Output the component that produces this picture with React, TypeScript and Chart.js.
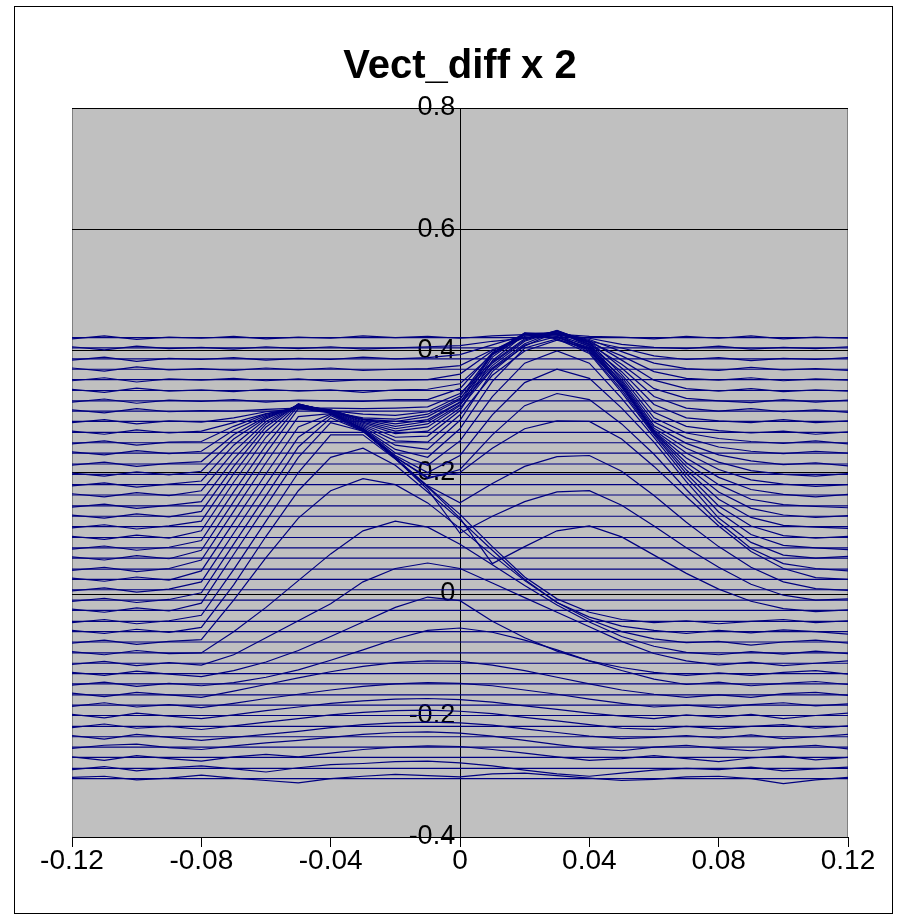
import React, { useEffect, useRef } from 'react';
import { Chart, registerables } from 'chart.js';

Chart.register(...registerables);

const TITLE = 'Vect_diff x 2';
const X_MIN = -0.12;
const X_MAX = 0.12;
const X_STEP = 0.04;
const Y_MIN = -0.4;
const Y_MAX = 0.8;
const Y_STEP = 0.2;

// x positions shared by every trace
const X_VALUES = [
  -0.12, -0.11, -0.1, -0.09, -0.08, -0.07, -0.06, -0.05, -0.04, -0.03, -0.02, -0.01,
  0, 0.01, 0.02, 0.03, 0.04, 0.05, 0.06, 0.07, 0.08, 0.09, 0.1, 0.11, 0.12,
];

// straight offset lines (values x1000)
const BASELINES = [
  -304, -287, -269, -252, -235, -218, -200, -183, -166, -148, -131, -114, -97, -79, -62,
  -45, -27, -10, 7, 24, 41, 59, 76, 93, 111, 128, 145, 163, 180, 197, 214, 232, 249,
  266, 284, 301, 318, 335, 353, 370, 387, 405, 422,
];

// measured traces (values x1000), one row per trace
const TRACES = [
  [-302,-300,-306,-303,-298,-303,-307,-311,-304,-300,-297,-299,-301,-296,-295,-299,-303,-307,-305,-301,-300,-304,-312,-306,-302],
  [-289,-284,-291,-286,-283,-288,-293,-286,-281,-279,-276,-275,-278,-283,-290,-296,-300,-295,-290,-287,-289,-285,-291,-288,-285],
  [-268,-274,-266,-271,-275,-268,-264,-268,-262,-256,-252,-250,-251,-256,-262,-268,-274,-271,-266,-271,-276,-270,-267,-273,-269],
  [-254,-249,-247,-253,-256,-250,-245,-241,-236,-231,-228,-227,-229,-234,-241,-248,-254,-258,-252,-249,-254,-258,-252,-249,-255],
  [-233,-239,-231,-236,-241,-236,-231,-226,-220,-215,-212,-211,-212,-216,-222,-228,-234,-238,-236,-233,-237,-232,-238,-235,-231],
  [-220,-214,-221,-218,-223,-217,-211,-205,-199,-195,-192,-191,-193,-197,-203,-209,-215,-221,-223,-218,-222,-218,-215,-221,-217],
  [-198,-204,-196,-201,-205,-199,-192,-186,-180,-176,-173,-172,-174,-178,-184,-190,-196,-201,-205,-199,-203,-198,-205,-200,-196],
  [-185,-179,-186,-182,-187,-180,-172,-165,-158,-152,-148,-146,-147,-151,-158,-165,-173,-180,-186,-183,-187,-182,-179,-184,-181],
  [-163,-169,-162,-166,-170,-160,-149,-138,-128,-119,-113,-110,-111,-117,-126,-137,-148,-158,-165,-170,-166,-170,-164,-162,-167],
  [-150,-145,-152,-147,-151,-146,-137,-125,-109,-92,-74,-60,-56,-63,-76,-92,-110,-126,-140,-149,-145,-151,-147,-144,-149],
  [-129,-134,-127,-132,-136,-126,-112,-93,-70,-46,-22,-5,-11,-45,-72,-94,-110,-121,-129,-134,-130,-134,-129,-126,-132],
  [-116,-111,-118,-113,-117,-100,-72,-44,-16,20,42,51,42,18,-6,-30,-54,-78,-98,-110,-117,-112,-118,-114,-110],
  [-95,-100,-93,-98,-97,-62,-22,22,66,104,120,110,82,48,14,-18,-46,-70,-86,-96,-100,-95,-99,-94,-98],
  [-81,-76,-83,-78,-75,-10,60,125,170,190,180,150,108,64,22,-14,-42,-62,-74,-80,-78,-84,-79,-76,-81],
  [-60,-65,-58,-63,-55,15,95,170,225,240,212,168,122,72,24,-14,-38,-53,-60,-65,-60,-64,-59,-62,-66],
  [-47,-42,-49,-44,-35,40,120,200,262,262,222,177,131,78,28,-8,-30,-42,-47,-44,-49,-45,-42,-47,-44],
  [-25,-30,-23,-28,-15,65,145,225,282,268,223,176,125,50,78,104,112,94,64,34,8,-12,-24,-29,-26],
  [-12,-7,-14,-9,2,82,162,242,290,268,223,172,100,128,152,168,170,146,112,76,44,16,-2,-10,-8],
  [5,10,3,8,20,100,180,258,294,268,224,178,150,182,210,226,228,202,162,118,78,44,20,9,6],
  [26,21,28,23,38,118,198,275,296,269,225,192,200,240,272,285,284,255,210,160,112,70,42,27,24],
  [39,44,37,42,56,136,216,292,297,270,226,190,205,262,310,330,320,280,230,172,118,75,50,42,38],
  [61,56,63,58,72,152,232,305,298,271,228,200,228,295,348,370,355,306,250,185,125,85,64,59,62],
  [74,79,72,77,88,168,245,310,298,272,232,212,252,325,380,400,380,322,258,192,135,98,80,76,73],
  [95,90,97,92,104,184,258,312,299,273,238,225,272,350,405,420,396,332,262,198,145,112,96,92,95],
  [109,114,107,112,120,198,268,313,300,275,245,238,286,366,410,424,398,336,264,204,156,126,113,110,108],
  [130,125,132,127,136,210,275,313,300,277,252,250,295,360,400,418,404,340,266,210,168,141,130,126,129],
  [143,148,141,146,152,222,280,312,301,279,258,260,302,384,427,428,400,342,267,216,180,156,147,144,142],
  [165,160,167,162,170,234,284,312,302,281,264,268,306,370,408,432,408,343,268,224,192,172,164,160,164],
  [178,183,176,181,186,245,288,311,302,283,268,275,310,390,428,420,402,345,270,232,205,188,181,177,180],
  [199,194,201,196,202,255,290,310,303,285,272,280,312,372,412,433,410,347,273,240,217,203,197,194,198],
  [212,217,210,215,218,262,292,309,303,287,276,284,315,394,429,424,404,350,277,248,229,219,213,216,211],
  [234,229,236,231,235,270,294,308,302,288,280,287,316,376,416,433,412,353,283,257,242,235,231,235,232],
  [247,252,245,250,251,276,296,307,300,288,284,292,320,395,429,422,406,357,290,265,256,251,248,252,247],
  [268,263,270,265,268,282,297,306,300,290,288,296,322,380,418,434,414,361,299,276,269,265,268,263,267],
  [282,287,280,285,283,290,300,305,302,296,294,300,326,396,430,426,408,366,312,290,285,282,287,282,285],
  [303,298,305,300,302,301,304,306,306,305,306,308,330,382,420,433,415,372,325,306,301,305,300,303,299],
  [316,321,314,319,317,320,316,319,318,317,320,320,338,397,429,430,411,378,338,322,318,315,320,316,319],
  [337,332,339,334,336,333,337,334,336,332,336,337,346,394,424,432,417,385,352,338,334,338,333,336,334],
  [351,356,349,354,352,355,351,354,350,353,352,353,362,400,428,429,414,392,366,355,352,356,351,354,352],
  [372,367,374,369,371,368,372,369,372,368,370,371,376,402,422,430,419,399,380,371,368,373,369,371,368],
  [385,390,383,388,386,389,385,388,386,390,387,389,394,410,426,427,416,405,392,386,389,384,388,386,389],
  [407,402,408,404,406,403,407,404,407,403,405,407,409,416,421,428,421,411,406,404,408,403,406,404,407],
  [420,425,419,423,421,424,420,423,421,425,422,424,421,425,427,428,424,423,420,424,421,425,420,423,421],
];

const LINE_COLOR = '#000080';
const FONT = '"Liberation Sans", Arial, Helvetica, sans-serif';

const framePlugin = {
  id: 'frame',
  beforeDraw(chart: any) {
    const { ctx, chartArea } = chart;
    ctx.save();
    ctx.fillStyle = '#ffffff';
    ctx.fillRect(0, 0, chart.width, chart.height);
    ctx.strokeStyle = '#000000';
    ctx.lineWidth = 1;
    ctx.strokeRect(14.5, 6.5, 878, 907);
    ctx.fillStyle = '#c0c0c0';
    ctx.fillRect(chartArea.left, chartArea.top, chartArea.right - chartArea.left, chartArea.bottom - chartArea.top);
    ctx.strokeStyle = '#808080';
    ctx.strokeRect(chartArea.left + 0.5, chartArea.top + 0.5, chartArea.right - chartArea.left - 1, chartArea.bottom - chartArea.top);
    ctx.restore();
  },
};

export default function App() {
  const canvasRef = useRef<HTMLCanvasElement | null>(null);

  useEffect(() => {
    const canvas = canvasRef.current;
    if (!canvas) return;
    const datasets: any[] = [];
    BASELINES.forEach((b) => {
      datasets.push({
        data: [{ x: X_MIN, y: b / 1000 }, { x: X_MAX, y: b / 1000 }],
        showLine: true,
        borderColor: LINE_COLOR,
        borderWidth: 1.2,
        pointRadius: 0,
        tension: 0,
      });
    });
    TRACES.forEach((row) => {
      datasets.push({
        data: row.map((v, i) => ({ x: X_VALUES[i], y: v / 1000 })),
        showLine: true,
        borderColor: LINE_COLOR,
        borderWidth: 1.2,
        pointRadius: 0,
        tension: 0,
      });
    });

    const fmt = (d: number) => (v: any) => String(Number(Number(v).toFixed(d)));

    const chart = new Chart(canvas, {
      type: 'scatter',
      data: { datasets },
      plugins: [framePlugin],
      options: {
        animation: false,
        responsive: false,
        devicePixelRatio: 1,
        layout: { padding: { left: 72, right: 60, top: 0, bottom: 46 } },
        plugins: {
          legend: { display: false },
          tooltip: { enabled: false },
          title: {
            display: true,
            text: TITLE,
            color: '#000',
            font: { family: FONT, size: 40, weight: 'bold' },
            padding: { top: 43, bottom: 17 },
          },
        },
        scales: {
          x: {
            type: 'linear',
            position: 'bottom',
            min: X_MIN,
            max: X_MAX,
            ticks: {
              stepSize: X_STEP,
              color: '#000',
              font: { family: FONT, size: 28, lineHeight: 1 },
              padding: 0,
              maxRotation: 0,
              autoSkip: false,
              callback: fmt(2),
            },
            grid: { drawOnChartArea: false, drawTicks: true, tickLength: 10, color: '#000' },
            border: { display: true, color: '#000', width: 1 },
          },
          y: {
            type: 'linear',
            position: { x: 0 } as any,
            min: Y_MIN,
            max: Y_MAX,
            ticks: { stepSize: Y_STEP, display: false },
            grid: { color: '#000', lineWidth: 1, drawTicks: true, tickLength: 6 },
            border: { display: true, color: '#000', width: 1 },
          },
          yl: {
            type: 'linear',
            axis: 'y',
            position: { x: -0.0015 } as any,
            min: Y_MIN,
            max: Y_MAX,
            z: 2,
            ticks: {
              stepSize: Y_STEP,
              color: '#000',
              font: { family: FONT, size: 27 },
              callback: fmt(1),
            },
            grid: { display: false, drawTicks: false },
            border: { display: false },
          },
        } as any,
      },
    });
    return () => chart.destroy();
  }, []);

  return (
    <div style={{ position: 'fixed', left: 0, top: 0, width: 908, height: 921, background: '#fff' }}>
      <canvas ref={canvasRef} width={908} height={921} style={{ display: 'block', width: 908, height: 921 }} />
    </div>
  );
}
